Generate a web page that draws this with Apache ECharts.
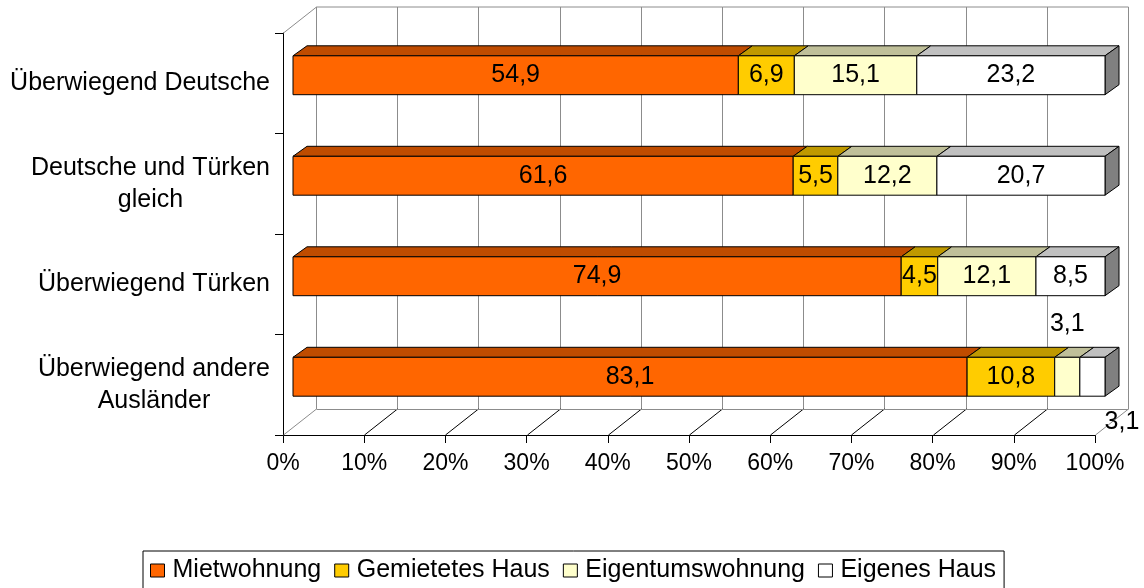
<!DOCTYPE html>
<html>
<head>
<meta charset="utf-8">
<script src="https://cdn.jsdelivr.net/npm/echarts@6/dist/echarts.min.js"></script>
<style>
html,body{margin:0;padding:0;background:#fff;}
#chart{width:1144px;height:588px;}
</style>
</head>
<body>
<div id="chart"></div>
<script>
const categories = ['Überwiegend Deutsche', 'Deutsche und Türken\ngleich', 'Überwiegend Türken', 'Überwiegend andere\nAusländer'];
const seriesNames = ['Mietwohnung', 'Gemietetes Haus', 'Eigentumswohnung', 'Eigenes Haus'];
const mietwohnung = [54.9, 61.6, 74.9, 83.1];
const gemietetesHaus = [6.9, 5.5, 4.5, 10.8];
const eigentumswohnung = [15.1, 12.2, 12.1, 3.1];
const eigenesHaus = [23.2, 20.7, 8.5, 3.1];
const xTicks = [0, 10, 20, 30, 40, 50, 60, 70, 80, 90, 100];

const values = [mietwohnung, gemietetesHaus, eigentumswohnung, eigenesHaus];
const frontColors = ['#FF6600', '#FFCC00', '#FFFFCC', '#FFFFFF'];
const topColors = ['#BF4C00', '#BF9900', '#BFBF99', '#C0C0C0'];
const sideColor = '#808080';
const FONT = 'Liberation Sans, Arial, sans-serif';

// 3D geometry (pixels)
const WALL = [33, -26];     // depth of the back wall
const BAR_OFF = [10, -8];   // front face of bars relative to front plane
const BAR_DEPTH = [14, -10];

function fmt(v) { return v.toFixed(1).replace('.', ','); }

// Build stacked, row-normalised data
const totals = categories.map((c, i) => values.reduce((s, arr) => s + arr[i], 0));
const stacked = values.map((arr, si) => arr.map((v, ci) => {
  let start = 0;
  for (let k = 0; k < si; k++) start += values[k][ci];
  return [ci, start / totals[ci] * 100, (start + v) / totals[ci] * 100, v];
}));

function barRender(si) {
  return function (params, api) {
    const ci = api.value(0), s = api.value(1), e = api.value(2), v = api.value(3);
    const c = api.coord([s, ci]);
    const c2 = api.coord([e, ci]);
    const bandH = api.size([0, 1])[1];
    const h = bandH * 0.387;
    const x0 = c[0] + BAR_OFF[0], x1 = c2[0] + BAR_OFF[0];
    const yc = c[1] + BAR_OFF[1];
    const y0 = yc - h / 2, y1 = yc + h / 2;
    const dx = BAR_DEPTH[0], dy = BAR_DEPTH[1];
    const children = [];
    children.push({
      type: 'polygon', shape: { points: [[x0, y0], [x0 + dx, y0 + dy], [x1 + dx, y0 + dy], [x1, y0]] },
      style: { fill: topColors[si], stroke: '#000', lineWidth: 1 }
    });
    if (si === values.length - 1) {
      children.push({
        type: 'polygon', shape: { points: [[x1, y0], [x1 + dx, y0 + dy], [x1 + dx, y1 + dy], [x1, y1]] },
        style: { fill: sideColor, stroke: '#000', lineWidth: 1 }
      });
    }
    children.push({
      type: 'rect', shape: { x: x0, y: y0, width: x1 - x0, height: h },
      style: { fill: frontColors[si], stroke: '#000', lineWidth: 1 }
    });
    let tx = (x0 + x1) / 2, ty = yc;
    if (v < 4) {
      if (si === 2) { ty = y0 - 33; }
      else { tx = x1 + 17; ty = y1 + 26; }
    }
    children.push({
      type: 'text', z2: 10,
      style: { text: fmt(v), x: tx, y: ty, align: 'center', verticalAlign: 'middle', fill: '#000', font: '25px ' + FONT }
    });
    return { type: 'group', children: children };
  };
}

function frameRender(params, api) {
  const cs = params.coordSys;
  const top = cs.y, bottom = cs.y + cs.height;
  const children = [];
  const gray = '#8c8c8c';
  const line = (a, b, color) => children.push({
    type: 'line', shape: { x1: a[0], y1: a[1], x2: b[0], y2: b[1] },
    style: { stroke: color, lineWidth: 1 }
  });
  xTicks.forEach((t, i) => {
    const x = Math.round(api.coord([t, 0])[0]) + 0.5;
    const bx = x + WALL[0];
    // back wall vertical gridline
    line([bx, top + WALL[1]], [bx, bottom + WALL[1]], gray);
    // floor diagonal
    const edge = (i === 0 || i === xTicks.length - 1);
    line([x, bottom], [bx, bottom + WALL[1]], edge ? gray : '#000');
  });
  const xl = Math.round(api.coord([xTicks[0], 0])[0]) + 0.5;
  const xr = Math.round(api.coord([xTicks[xTicks.length - 1], 0])[0]) + 0.5;
  // back wall top edge and floor back edge
  line([xl + WALL[0], top + WALL[1]], [xr + WALL[0], top + WALL[1]], gray);
  line([xl + WALL[0], bottom + WALL[1] + 0.5], [xr + WALL[0], bottom + WALL[1] + 0.5], gray);
  // left wall top diagonal
  line([xl, top], [xl + WALL[0], top + WALL[1]], gray);
  return { type: 'group', children: children };
}

const chart = echarts.init(document.getElementById('chart'), null, { renderer: 'canvas' });

const series = [{
  type: 'custom', name: '__frame', silent: true, z: 1,
  renderItem: frameRender, data: [[0, 0]], encode: { x: 0, y: 1 }
}];
seriesNames.forEach((n, si) => {
  series.push({
    type: 'custom', name: n, z: 3 + si,
    renderItem: barRender(si),
    itemStyle: { color: frontColors[si], borderColor: '#000', borderWidth: 1 },
    encode: { x: [1, 2], y: 0 },
    data: stacked[si]
  });
});

chart.setOption({
  animation: false,
  backgroundColor: '#fff',
  textStyle: { fontFamily: FONT, color: '#000' },
  grid: { left: 283, right: 49, top: 33, bottom: 153, containLabel: false },
  xAxis: {
    type: 'value', min: 0, max: 100, interval: 10,
    axisLine: { show: true, lineStyle: { color: '#000', width: 1 } },
    axisTick: { show: true, length: 8, lineStyle: { color: '#000' } },
    axisLabel: { formatter: '{value}%', fontSize: 23, color: '#000', margin: 17, fontFamily: FONT },
    splitLine: { show: false }
  },
  yAxis: {
    type: 'category', data: categories, inverse: true,
    axisLine: { show: true, lineStyle: { color: '#000', width: 1 } },
    axisTick: { show: true, length: 8, lineStyle: { color: '#000' } },
    axisLabel: {
      margin: 13, color: '#000', fontFamily: FONT,
      formatter: function (v) { return v.split('\n').map(s => '{c|' + s + '}').join('\n'); },
      rich: { c: { align: 'center', fontSize: 25, lineHeight: 32, fontFamily: FONT, color: '#000' } }
    },
    splitLine: { show: false }
  },
  legend: {
    data: seriesNames,
    left: 143, top: 551,
    orient: 'horizontal',
    icon: 'rect', itemWidth: 14, itemHeight: 13, itemGap: 13,
    padding: [7, 8, 8, 7],
    borderColor: '#000', borderWidth: 1,
    itemStyle: { borderColor: '#000', borderWidth: 1 },
    textStyle: { fontSize: 25, color: '#000', fontFamily: FONT, padding: [0, 0, 0, 3] }
  },
  series: series
});
</script>
</body>
</html>
